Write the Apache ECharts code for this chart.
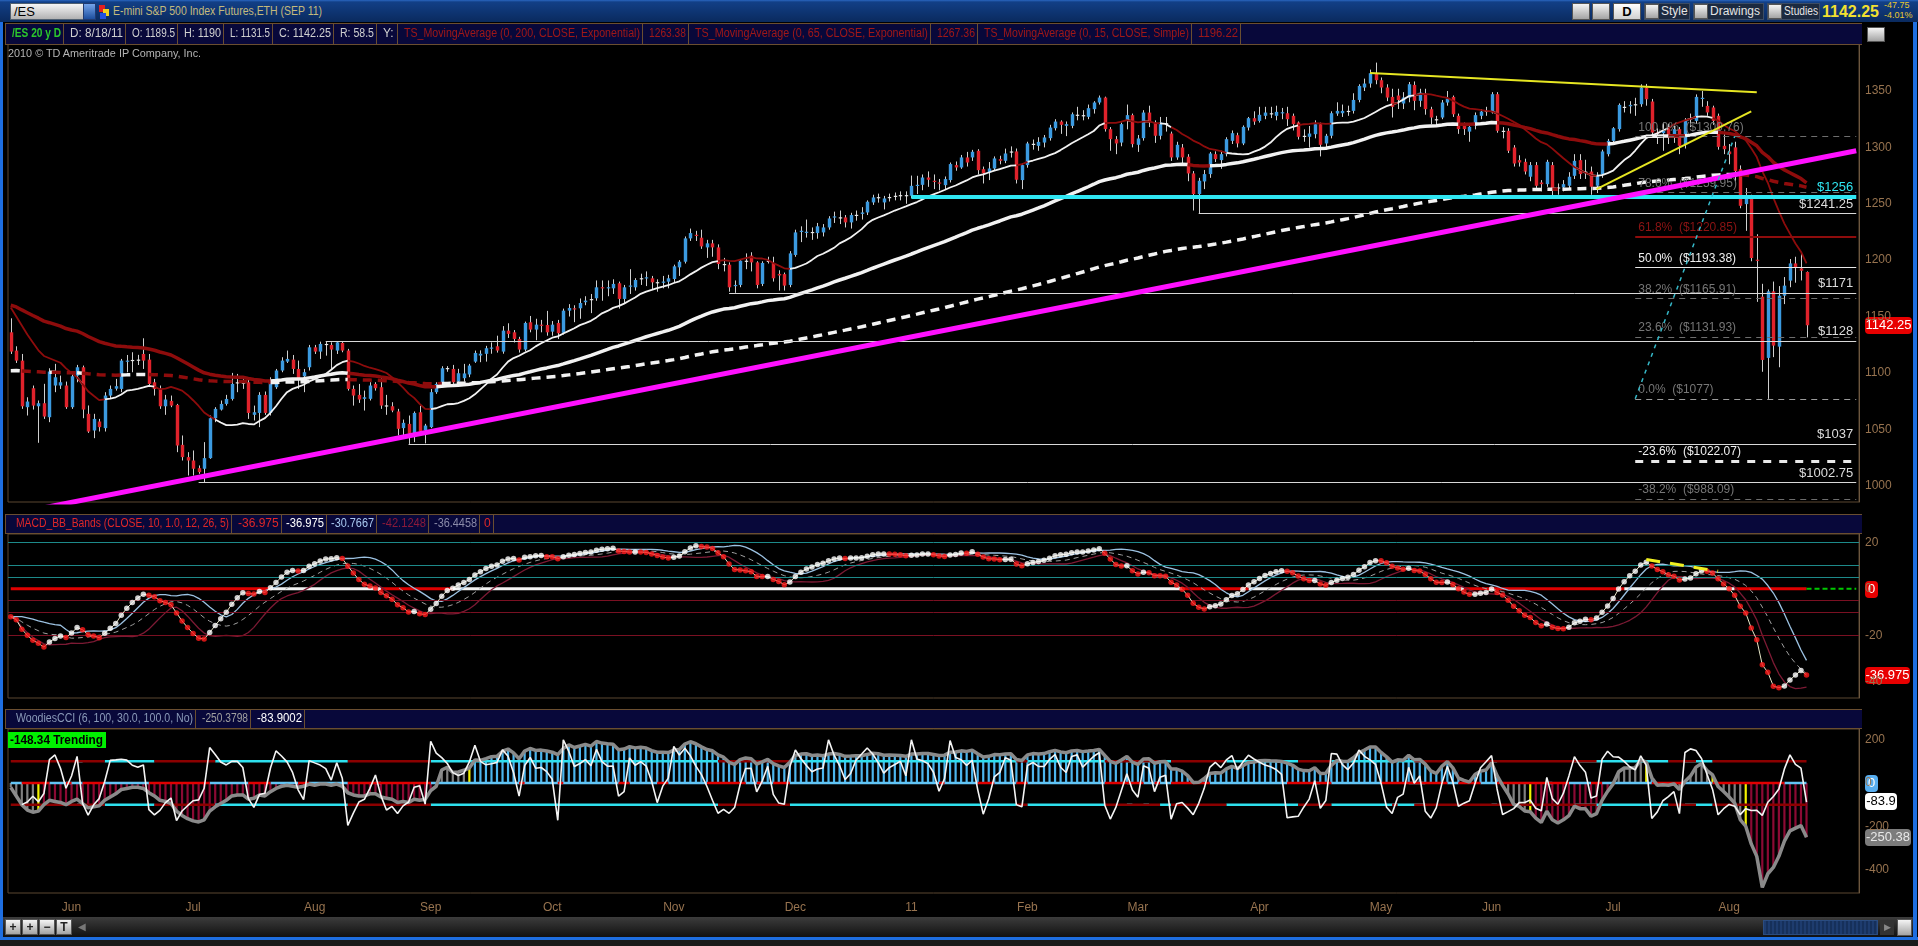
<!DOCTYPE html>
<html>
<head>
<meta charset="utf-8">
<title>/ES 20 y D</title>
<script src="https://cdn.jsdelivr.net/npm/echarts@6/dist/echarts.min.js"></script>
<style>
  html, body { margin: 0; padding: 0; width: 1918px; height: 946px; overflow: hidden; background: #000; }
  #main { position: absolute; left: 0; top: 0; width: 1918px; height: 946px; z-index: 1; }
  #chrome { position: absolute; left: 0; top: 0; width: 1918px; height: 946px; z-index: 2; pointer-events: none;
            font-family: "Liberation Sans", Arial, sans-serif; font-size: 12px; }
  #chrome div { position: absolute; box-sizing: border-box; overflow: hidden; white-space: nowrap; }
  #chrome span { display: inline-block; transform-origin: 0 50%; }
</style>
</head>
<body>
<div id="main"></div>
<div id="chrome"></div>
<script>
// ---- daily bars, /ES (index 0 = first bar on the left) ----
const opens = [
  1136,1119.8,1110.9,1069.6,1086.4,1070.4,1073.1,1060.7,1088.8,1088.8,
  1088.8,1069.6,1097.6,1105,1063.7,1048.9,1056.9,1051,1079.9,1086,
  1085.8,1110.3,1111.2,1111.5,1116.8,1111.8,1091.7,1085.8,1070.4,1075.2,
  1071.6,1036.2,1025.3,1022.3,1015.5,1015,1024.4,1059.8,1067.5,1072.5,
  1076.9,1091.2,1091.4,1091.7,1062.8,1064.5,1080.5,1064.5,1087.3,1102.1,
  1110,1111.8,1103.5,1097,1105,1122.7,1118.9,1125.4,1124.8,1119.8,
  1126.6,1119.8,1085.8,1080.5,1077,1077,1090.2,1087.3,1071.2,1070.4,
  1065.8,1051,1054.8,1046,1065.1,1049,1051.9,1082.9,1090.2,1104.1,
  1103.5,1092.3,1095.3,1098.6,1110.0,1115.4,1116.9,1121.5,1123.6,1118.9,
  1137.5,1136,1130.1,1120.7,1144.9,1138.4,1142.8,1142.5,1136.6,1144.3,
  1135.5,1155.2,1157.3,1157.3,1162.7,1165.5,1166.2,1176,1175,1175,
  1179.5,1165.6,1176.5,1175.9,1183.5,1183.9,1183.9,1180.5,1180.3,1180.9,
  1183.3,1193.6,1198.6,1219.3,1222.5,1219.9,1211.3,1214.9,1211.3,1196.6,
  1196,1177,1178,1199.5,1204,1198,1178.9,1199,1197.5,1187.8,
  1187.6,1178,1204.6,1225,1224.6,1225,1224,1224.6,1229,1238,
  1238,1237.9,1233.5,1240,1241,1242.3,1251.2,1255.6,1251.2,1255.5,
  1256.5,1257.4,1257.7,1257.1,1266,1266.8,1273.3,1270.4,1268.9,1266.5,
  1271,1284.3,1282.2,1291.1,1291.1,1297,1280.7,1277.8,1281.3,1289.6,
  1288.1,1296.0,1296.4,1271,1284.3,1302.9,1301.4,1304.3,1308.2,1317.0,
  1322.9,1319.1,1319.1,1328.6,1328.6,1327.1,1333.9,1339.8,1344.2,1316.2,
  1307.3,1304.3,1323.5,1328.6,1302.3,1308.2,1330.9,1322.1,1310.3,1321.2,
  1312.3,1291.1,1299.9,1291.7,1276.9,1258.6,1269.8,1276.3,1294,1288.7,
  1294.0,1305.8,1310.8,1303.5,1317.6,1325.9,1323.5,1328.0,1329.8,1328.0,
  1330.3,1330.3,1328.0,1322.1,1310.3,1309.4,1311.7,1320.6,1303.5,1310.3,
  1330,1330.3,1332.4,1332.4,1342.1,1353.1,1356.6,1365.8,1359.6,1353.1,
  1344.8,1346,1338.9,1344.2,1355.4,1341.3,1347.8,1333.9,1325,1326.5,
  1339.8,1344.8,1328,1319.1,1314,1319.1,1328,1332.2,1331.8,1347.2,
  1314.7,1314.7,1299.9,1288.7,1287.2,1274,1284.3,1268.9,1267.4,1284.3,
  1264.5,1264.5,1266,1274.8,1288.7,1278.6,1278.6,1266,1275.7,1294,
  1305.8,1316.2,1335.9,1336.5,1337.7,1338.3,1353.1,1340.7,1313.2,1312.6,
  1317.0,1310.2,1316.2,1302.9,1326,1323.5,1343,1336.8,1335.4,1328,
  1301.4,1296.4,1300,1280.7,1249.7,1256.2,1200.4,1167.6,1113.3,1172.3,
  1123.3,1168.5,1181.8,1197.1,1192.7,1189.5
];
const highs = [
  1148.4,1123.6,1116.8,1078.4,1088.8,1075.5,1090.3,1104.1,1108,1097.6,
  1092.3,1101.2,1107.1,1106.5,1071.1,1063.7,1059.2,1082.9,1088.8,1094.7,
  1112.4,1115.9,1118.3,1116,1130.7,1116.8,1094.7,1088.8,1080.5,1079.9,
  1072.5,1044.5,1029.7,1031.2,1017.9,1038.6,1062.2,1069.6,1075.5,1080.5,
  1100,1099.1,1096,1094.7,1071,1082.9,1083.5,1096.1,1103.5,1113.9,
  1119.8,1115.9,1110.9,1103.5,1124.8,1124.8,1127.7,1128,1127.1,1128,
  1127.7,1121.3,1088.8,1090.2,1084.3,1091.7,1091.7,1095.3,1080.5,1074,
  1068.1,1058.6,1062.2,1065.8,1071,1054.8,1085.8,1091.7,1105.9,1106,
  1107.1,1103.6,1108,1108,1119.8,1120,1124,1127,1133,1141.5,
  1144,1138,1132,1145.5,1150.5,1148,1147,1155,1146,1147,
  1157,1161,1160,1166,1168,1170,1182,1182,1182,1183,
  1181,1178,1192,1184,1188,1190,1186,1183,1186,1187,
  1196,1200,1221,1228,1226,1227,1218,1218,1214,1202,
  1198,1182,1201,1206,1207,1199,1199,1203,1203,1191,
  1189,1208,1227,1230,1236,1229,1233,1232,1239,1243,
  1244,1240,1242,1244,1247,1253,1258,1259,1257,1259,
  1260,1261,1261,1275,1274.8,1276,1278.7,1276,1272,1274.2,
  1286.6,1287.5,1293.3,1296,1297.8,1298.4,1283,1287,1292,1292.6,
  1298.9,1300.9,1299,1286,1305,1307,1309,1311,1320,1325,
  1324,1323,1331,1336,1333,1338,1341,1346,1345,1318,
  1310,1322,1338,1330,1311,1333,1337,1324,1327,1327,
  1314,1305,1303,1294,1279,1273,1280,1296,1296.5,1297,
  1309,1315,1313,1319.5,1327,1332,1336,1336,1336,1337,
  1335,1336,1330,1323,1316,1319,1324,1322,1312,1332,
  1340,1338,1337,1348,1356,1361,1369,1375.2,1362,1356,
  1352,1352,1349,1358,1358.5,1352,1352,1336,1328,1342,
  1350,1346,1330,1322,1320,1331,1334,1336,1349,1349,
  1318,1317,1302,1293,1290,1287,1287,1271,1289,1287,
  1268,1271,1278,1294,1294,1289,1283,1278,1298,1307.5,
  1318,1339,1341,1341,1344,1356,1356.3,1343,1317,1322,
  1321,1319,1318,1326,1330,1347,1350,1341,1337,1330,
  1314,1303,1305,1284,1264,1258,1223,1179,1174,1181,
  1177,1185,1201,1203,1207,1190
];
const lows = [
  1116.8,1108.8,1068.1,1062.2,1067.5,1038.0,1059.2,1056.3,1082.9,1085.8,
  1068.1,1068.1,1091.7,1059.8,1046.8,1042.1,1048.0,1048.0,1077,1084.3,
  1082.9,1100.6,1100.6,1107,1103.5,1088.8,1079.9,1068.1,1062.8,1069.6,
  1029.7,1022.3,1009.0,1009.0,1010.5,1002.75,1023.8,1056.3,1066.6,1071,
  1075.5,1082.9,1085.8,1059.2,1057.8,1051.9,1062.8,1062.2,1085.8,1100.6,
  1108.8,1099.1,1085.8,1082.9,1102.1,1116.8,1112.4,1115.3,1103.5,1116.8,
  1118.3,1084.3,1071,1073.4,1066.6,1075.5,1084.3,1068.1,1062.8,1065.1,
  1044.5,1043,1037,1038.6,1046,1037.5,1051,1081.4,1088.8,1101,
  1090.2,1088.8,1092.3,1096.2,1108.9,1109.5,1110,1117,1118,1117,
  1131,1127,1118,1119,1136,1129,1136,1133,1133,1130,
  1134,1150,1145,1148,1160,1153,1164,1164,1168,1170,
  1157,1162,1170,1173,1178,1177,1174,1172,1175,1175,
  1180,1186,1197,1217,1217,1210,1202,1203,1192,1190,
  1172,1171,1176,1192,1190,1175,1177,1197,1181,1173,
  1173,1176,1203,1216,1220,1218,1219,1221,1227,1233,
  1232,1229,1228,1235,1236,1240,1249,1251,1245,1252,
  1253,1253,1250,1255,1258.6,1262,1265,1263,1262,1263,
  1268.9,1279.3,1281,1283,1288,1276,1268,1271,1279,1285,
  1286,1291,1268,1263,1282,1298,1297,1300,1306,1315,
  1312,1310,1317,1324,1324,1325,1330,1338,1314,1297,
  1294,1301,1316,1300,1296,1306,1318,1304,1307,1314,
  1288,1289,1284,1270,1244,1241.25,1263,1273,1287,1281,
  1292,1303,1300,1302,1315,1320,1322,1325,1326,1324,
  1325,1319,1315,1307,1305,1300,1308,1292,1298,1308,
  1328,1327,1328,1330,1340,1350,1353,1356,1348,1341,
  1326.5,1334,1334,1340,1333,1336,1329,1320.5,1319,1325,
  1337,1327,1312,1311,1305,1316,1325,1328,1330,1313,
  1308,1295,1283,1283,1276,1270,1264,1261,1265,1257.5,
  1258,1261,1263,1272,1272,1272,1258,1259.5,1273,1292,
  1303,1314,1331,1330,1328,1336,1337,1310,1303,1297,
  1303,1304,1294,1299,1318,1321,1336,1328,1320,1298,
  1294,1285,1270,1246,1226,1199,1163,1101,1077,1114,
  1105,1161,1176,1180,1182,1131.5
];
const closes = [
  1118.9,1110.9,1070.4,1074.6,1071.0,1073.1,1061.3,1101.2,1096.1,1091.7,
  1069.6,1097,1105,1067.5,1048.0,1059.2,1051.9,1079.9,1085.8,1088.2,
  1110.9,1110.9,1111.5,1111.8,1110.9,1090.2,1085.8,1070.4,1076.4,1071,
  1035.6,1025.3,1022.3,1015,1012,1024.4,1059.8,1068.1,1072.5,1076.9,
  1090.2,1091.7,1091.1,1064.5,1065.1,1080.5,1064.5,1093.2,1102.1,1110.9,
  1112.4,1103.5,1094.7,1100.6,1122.7,1118.9,1125.7,1125.7,1120.7,1127.1,
  1119.8,1085.8,1079.9,1076.4,1078.4,1088.8,1086.4,1071,1071,1066.6,
  1050.4,1055.7,1046,1064.5,1048,1053.3,1082.9,1090.2,1104.1,1104.3,
  1091.7,1099.7,1099.5,1106.5,1117.7,1117,1121.9,1122.5,1119.8,1137.5,
  1134.6,1130.1,1120.7,1144.3,1138.4,1142.8,1141.9,1136,1142.8,1135.2,
  1155.2,1157.6,1156.5,1162,1164.1,1165,1175.9,1175,1176,1178.9,
  1165.6,1175.9,1177.5,1182.4,1184,1184.8,1180.3,1180.3,1181,1183.9,
  1194.5,1198.6,1219.3,1224,1221.7,1212.2,1214.9,1211.3,1196.6,1196,
  1175.9,1178,1199.5,1199,1198,1178,1197.5,1199.5,1183.9,1186.4,
  1177.4,1206,1224.6,1226.1,1225.2,1224.4,1230,1229,1237,1238.8,
  1237.9,1233.5,1240,1240.2,1242.3,1251.8,1255.6,1255.9,1254.7,1256,
  1257.1,1257.7,1257.4,1265.9,1266.8,1273.3,1271.3,1269.8,1268.0,1271.9,
  1285.2,1282.2,1291.1,1286.6,1296.1,1279.8,1276.9,1281.3,1290.2,1288.1,
  1294.6,1296.4,1271.3,1284.3,1303.5,1303.2,1304.9,1308.8,1317.6,1322.9,
  1320.0,1320.6,1329.4,1329,1328,1334.8,1339.8,1344.2,1316.2,1307.3,
  1303.5,1320.6,1328.6,1302.9,1307.9,1330.9,1322.1,1310.3,1322.1,1321.5,
  1291.1,1302.3,1291.1,1276.9,1258.6,1270.4,1276.3,1294.6,1289.6,1294.0,
  1307.3,1312.6,1303.5,1318.2,1325.9,1322.9,1328.9,1330.9,1330.3,1331.5,
  1331.2,1325.0,1320.6,1309.4,1309.9,1312.3,1320.6,1302.3,1310.3,1330.3,
  1332.4,1332.4,1332.1,1342.1,1354.5,1356.6,1365.8,1359.6,1353.1,1344.2,
  1336,1342,1344.2,1356.0,1341.3,1348.6,1333.9,1326.5,1324.9,1339.8,
  1343.3,1329.4,1316.2,1316.2,1318.2,1328.6,1331.8,1332.4,1347.2,1314.7,
  1314.4,1297,1285.7,1286.6,1278.6,1284.3,1266,1267.4,1287.2,1261.5,
  1264.5,1267.4,1274,1288.1,1276.3,1278.6,1265.1,1275.7,1296.4,1305.8,
  1317,1337.7,1336,1337.7,1338.3,1353.1,1342.7,1313.2,1312.5,1315.5,
  1308.8,1316.2,1301.4,1324.1,1325,1344.8,1344,1331,1323.5,1300.5,
  1298.4,1294,1279,1248.2,1256.2,1201.9,1199.5,1111.5,1172.3,1124.2,
  1168.5,1177.4,1197.1,1193,1190.6,1142.25
];

// month labels and the bar each month starts on
const monthNames  = ['Jun','Jul','Aug','Sep','Oct','Nov','Dec','11','Feb','Mar','Apr','May','Jun','Jul','Aug'];
const monthStarts = [11, 33, 55, 76, 98, 120, 142, 163, 184, 204, 226, 248, 268, 290, 311];

// indicator values read at the left edge, where the chart has no earlier bars
const ema200Start = 1102;
const ema65Start  = 1160;
const sma15Lead   = [1158,1150,1142,1134,1127,1120,1115,1113,1111,1109,1104,1100,1096,1090];
const ema12Start  = 1138;
const ema26Start  = 1150;
const cci100Lead  = [
  -20,-60,-100,-125,-135,-130,-100,-80,-85,-90,
  -100,-85,-75,-95,-115,-110,-105,-80,-65,-50,
  -30,-25,-20,-20,-25,-45,-60,-80,-85,-95,
  -130,-150,-165,-175,-180,-170,-130,-110,-95,-80,
  -60,-55,-55,-75,-70,-55,-60,-40,-25,-15,
  -10,-15,-20,-15,-5,-10,-5,-5,-10,-5,
  -15,-45,-55,-60,-60,-50,-50,-65,-70,-75,
  -90,-85,-90,-75,-80,-75,-35,-15
];

// drawings on the price pane
const levelPrices = [1256, 1241.25, 1171, 1128, 1037, 1002.75];
const levelStarts = [163, 215, 130, 57, 72, 34];
const levelLabels = ['$1256', '$1241.25', '$1171', '$1128', '$1037', '$1002.75'];
const fibHigh = 1309.76, fibLow = 1077, fibStart = 294;
const fibRatios = [1, 0.786, 0.618, 0.5, 0.382, 0.236, 0, -0.236, -0.382];
const magentaTrend = [[0, 974.6], [334, 1297]];
const yellowTop    = [[246, 1366], [316, 1349]];
const yellowRise   = [[287, 1263], [315, 1332]];
const fibDiagonal  = [[294, 1077], [312, 1309.76]];
const macdDivergence = [[296, 12.6], [309, 7.6]];

// axis ticks
const priceTicks = [1000, 1050, 1100, 1150, 1200, 1250, 1300, 1350];
const macdTicks  = [20, 0, -20, -40];
const cciTicks   = [200, 0, -200, -400];
const macdUpperLevels = [20, 10, 5];
const macdLowerLevels = [-5, -10, -20];

// last values shown in the axis flags
const lastPrice = 1142.25, lastMacd = -36.975, lastCci6 = -83.9, lastCci100 = -250.38;

// ---------------------------------------------------------------
const N = closes.length;
const SLOTS = 335;                       // bars plus the empty space on the right
const cats = Array.from({ length: SLOTS }, (_, i) => String(i));

function emaFrom(src, start, len) {
  const k = 2 / (len + 1), out = [start];
  for (let i = 1; i < src.length; i++) out.push(out[i - 1] + k * (src[i] - out[i - 1]));
  return out;
}
function smaLead(src, len, lead) {
  return src.map((_, i) => {
    if (i < len - 1) return lead[i];
    let s = 0;
    for (let j = i - len + 1; j <= i; j++) s += src[j];
    return s / len;
  });
}
function cci(len) {
  const tp = closes.map((c, i) => (highs[i] + lows[i] + c) / 3);
  return tp.map((v, i) => {
    const from = Math.max(0, i - len + 1);
    if (i - from < 2) return null;
    const win = tp.slice(from, i + 1);
    const m = win.reduce((a, b) => a + b, 0) / win.length;
    const md = win.reduce((a, b) => a + Math.abs(b - m), 0) / win.length;
    return md === 0 ? 0 : (v - m) / (0.015 * md);
  });
}
// split one line into two colour runs
function split(vals, up) {
  const a = [], b = [];
  for (let i = 0; i < vals.length; i++) {
    const v = vals[i];
    a.push(up[i] ? v : null);
    b.push(up[i] ? null : v);
    if (i > 0 && up[i] !== up[i - 1]) { if (up[i - 1]) a[i] = v; else b[i] = v; }
  }
  return [a, b];
}

const ema200 = emaFrom(closes, ema200Start, 200);
const ema65 = emaFrom(closes, ema65Start, 65);
const sma15 = smaLead(closes, 15, sma15Lead);

const fast = emaFrom(closes, ema12Start, 12), slow = emaFrom(closes, ema26Start, 26);
const macd = closes.map((_, i) => fast[i] - slow[i]);
const bandMid = [], bandUp = [], bandDn = [];
macd.forEach((_, i) => {
  const win = macd.slice(Math.max(0, i - 9), i + 1);
  const m = win.reduce((a, b) => a + b, 0) / win.length;
  const sd = Math.sqrt(win.reduce((a, b) => a + (b - m) * (b - m), 0) / win.length);
  bandMid.push(m); bandUp.push(m + sd); bandDn.push(m - sd);
});

const cci6 = cci(6);
const cci100 = cci(100).map((v, i) => (i < cci100Lead.length ? cci100Lead[i] : v));

const WHITE = '#f2f2f2', MAROON = '#8e0c0c';

function line(data, grid, color, width, dash, z) {
  return { type: 'line', xAxisIndex: grid, yAxisIndex: grid, data, symbol: 'none', showSymbol: false,
           connectNulls: false, silent: true, z: z || 3, lineStyle: { color, width, type: dash || 'solid', cap: 'butt' } };
}
function maPair(vals, width, dash) {
  const up = vals.map((v, i) => closes[i] >= v);
  const [a, b] = split(vals, up);
  return [line(a, 0, WHITE, width, dash, 4), line(b, 0, MAROON, width, dash, 4)];
}

const series = [];

// candles
series.push({
  type: 'custom', xAxisIndex: 0, yAxisIndex: 0, z: 2, silent: true,
  data: closes.map((c, i) => [i, opens[i], c, lows[i], highs[i]]),
  renderItem(params, api) {
    const x = api.value(0), o = api.value(1), c = api.value(2), l = api.value(3), h = api.value(4);
    const pH = api.coord([x, h]), pL = api.coord([x, l]), pO = api.coord([x, o]), pC = api.coord([x, c]);
    const w = api.size([1, 0])[0] * 0.62;
    const cx = Math.round(pH[0]) + 0.5;
    const top = Math.min(pO[1], pC[1]);
    const bh = Math.max(Math.abs(pO[1] - pC[1]), 1.2);
    const fill = Math.abs(c - o) < 0.6 ? '#e6e6e6' : (c > o ? '#3b9ae0' : '#e0222b');
    return { type: 'group', children: [
      { type: 'line', shape: { x1: cx, y1: pH[1], x2: cx, y2: pL[1] }, style: { stroke: '#cfcfcf', lineWidth: 1 } },
      { type: 'rect', shape: { x: cx - w / 2, y: top, width: w, height: bh }, style: { fill } }
    ] };
  }
});
series.push(...maPair(ema200, 3.5, [9, 6]));
series.push(...maPair(ema65, 3.5));
series.push(...maPair(sma15, 1.8));

// horizontal levels and fib retracement
const fibFmt = p => Math.abs(p - Math.round(p)) < 0.005 ? String(Math.round(p)) : p.toFixed(2);
const mlData = [];
levelPrices.forEach((p, k) => {
  const cyan = k === 0;
  mlData.push([
    { coord: [levelStarts[k], p],
      lineStyle: { color: cyan ? '#2fe6f2' : '#d8d8d8', width: cyan ? 4 : 1, type: 'solid' },
      label: { show: true, position: 'insideEndTop', formatter: levelLabels[k], distance: 3,
               color: cyan ? '#2fe6f2' : '#dcdcdc', fontSize: 13 } },
    { coord: [SLOTS - 1, p] }
  ]);
});
fibRatios.forEach(r => {
  const p = fibLow + r * (fibHigh - fibLow);
  let color = '#6e6e6e', width = 1, type = [6, 5], lc = '#767676';
  if (r === 0.618) { color = '#8e0c0c'; width = 2; type = 'solid'; lc = '#8e1414'; }
  if (r === 0.5) { color = '#e8e8e8'; width = 1; type = 'solid'; lc = '#f0f0f0'; }
  if (r === -0.236) { color = '#e8e8e8'; width = 3; type = [8, 8]; lc = '#f0f0f0'; }
  if (r === 0) { color = '#9a9a9a'; }
  mlData.push([
    { coord: [fibStart, p], lineStyle: { color, width, type },
      label: { show: true, position: 'insideStartTop', distance: 3, color: lc, fontSize: 12,
               formatter: (r * 100).toFixed(1) + '%  ($' + fibFmt(p) + ')' } },
    { coord: [SLOTS - 1, p] }
  ]);
});

const magenta = line(magentaTrend, 0, '#ff10ff', 5, 'solid', 6);
magenta.markLine = { silent: true, symbol: 'none', animation: false, z: 5, data: mlData };
series.push(magenta);
series.push(line(yellowTop, 0, '#e6e622', 2, 'solid', 6));
series.push(line(yellowRise, 0, '#e6e622', 2, 'solid', 6));
series.push(line(fibDiagonal, 0, '#35b8c8', 1.5, [4, 5], 6));

// MACD pane
const macdUp = macd.map(v => v > 0);
const [zeroW, zeroR] = split(macd.map(() => 0), macdUp);
const zeroSeries = line(zeroW, 1, '#f2f2f2', 3, 'solid', 3);
zeroSeries.markLine = { silent: true, symbol: 'none', animation: false, label: { show: false },
  data: macdUpperLevels.map(v => ({ yAxis: v, lineStyle: { color: '#1d8a8a', width: 1, type: 'solid' } }))
    .concat(macdLowerLevels.map(v => ({ yAxis: v, lineStyle: { color: '#7a1022', width: 1, type: 'solid' } }))) };
series.push(zeroSeries);
series.push(line(zeroR, 1, '#e00000', 3, 'solid', 3));
series.push(line(cats.map((_, i) => (i >= N - 1 ? 0 : null)), 1, '#00c800', 2, [5, 3], 3));
series.push(line(bandUp, 1, '#9cc2e2', 1.3, 'solid', 4));
series.push(line(bandDn, 1, '#7c1a34', 1.3, 'solid', 4));
series.push(line(bandMid, 1, '#a0a0a0', 1, [5, 4], 4));
series.push(line(macd, 1, '#e8e8c8', 1, 'solid', 5));
series.push({
  type: 'scatter', xAxisIndex: 1, yAxisIndex: 1, silent: true, z: 6, symbolSize: 5.5,
  data: macd.map((v, i) => ({ value: [i, v], itemStyle: { color: i > 0 && v > macd[i - 1] ? '#ffffff' : '#ff1a1a' } }))
});
series.push(line(macdDivergence, 1, '#f0f020', 3, [14, 10], 7));

// Woodies CCI pane
let run = 0, side = 0;
const histData = cci100.map((v, i) => {
  if (v == null) return { value: null };
  const s = v > 0 ? 1 : -1;
  if (s === side) run++; else { side = s; run = 1; }
  const color = run < 6 ? '#808080' : run === 6 ? '#f2f200' : (s > 0 ? '#4cb6ee' : '#8c0a34');
  return { value: v, itemStyle: { color } };
});
series.push({ type: 'bar', xAxisIndex: 2, yAxisIndex: 2, data: histData, barWidth: 2.2, silent: true, z: 2 });
const trendUp = closes.map((c, i) => c > sma15[i]);
const [p100c, p100r] = split(closes.map(() => 100), trendUp);
const [m100c, m100r] = split(closes.map(() => -100), trendUp);
const [zB, zR] = split(closes.map(() => 0), cci6.map(v => v == null || v >= 0));
series.push(line(p100c, 2, '#2ee0ee', 2.5, 'solid', 3), line(p100r, 2, '#8b0000', 2.5, 'solid', 3));
series.push(line(m100c, 2, '#2ee0ee', 2.5, 'solid', 3), line(m100r, 2, '#8b0000', 2.5, 'solid', 3));
series.push(line(zB, 2, '#62c4f4', 2.5, 'solid', 3), line(zR, 2, '#e00000', 2.5, 'solid', 3));
series.push(line(cci100, 2, '#8a8a8a', 3.5, 'solid', 4));
series.push(line(cci6, 2, '#f4f4f4', 1.6, 'solid', 5));

function yAx(g, min, max, ticks) {
  return {
    type: 'value', gridIndex: g, position: 'right', min, max,
    axisLine: { show: true, lineStyle: { color: '#6b563e', width: 1 } },
    axisTick: { show: false }, splitLine: { show: false },
    axisLabel: { customValues: ticks, color: '#97734f', fontSize: 12, margin: 6, formatter: v => String(v) }
  };
}
const gridBase = { left: 8, width: 1851, show: true, backgroundColor: '#000', borderColor: '#5a4631', borderWidth: 1, outerBoundsMode: 'none' };

const option = {
  animation: false,
  backgroundColor: 'transparent',
  textStyle: { fontFamily: '"Liberation Sans", Arial, sans-serif' },
  grid: [
    Object.assign({ top: 44, height: 458 }, gridBase),
    Object.assign({ top: 534, height: 164 }, gridBase),
    Object.assign({ top: 729, height: 164 }, gridBase)
  ],
  xAxis: [0, 1, 2].map(g => ({
    type: 'category', gridIndex: g, data: cats, boundaryGap: true,
    axisLine: { show: false }, axisTick: { show: false }, splitLine: { show: false },
    axisLabel: g === 2 ? {
      show: true, color: '#97734f', fontSize: 12, margin: 9,
      interval: idx => monthStarts.indexOf(idx) >= 0,
      formatter: (v, idx) => monthNames[monthStarts.indexOf(idx)] || ''
    } : { show: false }
  })),
  yAxis: [
    yAx(0, 985.5, 1391.7, priceTicks),
    yAx(1, -46.97, 23.57, macdTicks),
    yAx(2, -508, 249.4, cciTicks)
  ],
  series
};

const chart = echarts.init(document.getElementById('main'), null, { renderer: 'canvas' });
chart.setOption(option);

// value flags on the right axes
function flag(grid, value, text, fill, color, w) {
  const y = chart.convertToPixel({ yAxisIndex: grid }, value);
  return { type: 'group', x: 1865, y: Math.round(y) - 8, silent: true, z: 50, children: [
    { type: 'rect', shape: { x: 0, y: 0, width: w, height: 17, r: 4 }, style: { fill } },
    { type: 'text', style: { x: w / 2, y: 8.5, text, fill: color, fontSize: 13, align: 'center', verticalAlign: 'middle',
                             fontFamily: '"Liberation Sans", Arial, sans-serif' } }
  ] };
}
chart.setOption({ graphic: [
  flag(0, lastPrice, '1142.25', '#e80000', '#ffffff', 47),
  flag(1, 0, '0', '#e80000', '#ffffff', 13),
  flag(1, lastMacd, '-36.975', '#e80000', '#ffffff', 45),
  flag(2, 0, '0', '#58aef0', '#ffffff', 13),
  flag(2, lastCci6, '-83.9', '#ffffff', '#000000', 32),
  flag(2, lastCci100, '-250.38', '#7c7c7c', '#e8e8e8', 46)
] });

// ---------------- window chrome ----------------
const chrome = document.getElementById('chrome');
function box(l, t, w, h, css, text) {
  const d = document.createElement('div');
  d.style.cssText = 'left:' + l + 'px;top:' + t + 'px;width:' + w + 'px;height:' + h + 'px;' + (css || '');
  if (text !== undefined) {
    const s = document.createElement('span');
    s.textContent = text;
    d.appendChild(s);
  }
  chrome.appendChild(d);
  return d;
}
function squeeze(d, room) {
  const s = d.firstChild;
  if (!s) return;
  const w = s.getBoundingClientRect().width;
  if (w > room) s.style.transform = 'scaleX(' + (room / w).toFixed(3) + ')';
}
function cells(list, top, h) {
  list.forEach(([l, r, text, color, bold]) => {
    const d = box(l, top, r - l, h, 'padding-left:3px;line-height:' + (h - 1) + 'px;color:' + color +
      ';border-right:1px solid #6a4e30;' + (bold ? 'font-weight:bold;' : ''), text);
    squeeze(d, r - l - 6);
  });
}

// title bar
box(0, 0, 1918, 22, 'background:linear-gradient(#2a66c0 0,#123f86 2px,#0a2a5e 100%);');
box(10, 3, 74, 17, 'background:linear-gradient(#f6f6f6,#b2b2b2);border:1px solid #506070;padding-left:3px;line-height:15px;color:#000;font-size:13px;', '/ES');
box(83, 3, 13, 17, 'background:linear-gradient(#74a4ea,#1d4e9e);border:1px solid #203a70;');
box(99, 5, 6, 7, 'background:#e02020;');
box(103, 9, 6, 7, 'background:#f0d020;');
box(100, 13, 6, 6, 'background:#2050e0;');
squeeze(box(113, 2, 330, 19, 'line-height:19px;color:#c4ba7c;', 'E-mini S&P 500 Index Futures,ETH (SEP 11)'), 209);

const icon = 'background:linear-gradient(#f4f4f4,#a4a4a4);border:1px solid #555;';
box(1572, 3, 18, 17, icon);
box(1592, 3, 18, 17, icon);
box(1613, 3, 28, 17, 'background:linear-gradient(#ffffff,#d0d0d0);border:1px solid #555;text-align:center;line-height:15px;font-weight:bold;color:#000;font-size:13px;', 'D');
[[1644, 46, 'Style'], [1693, 71, 'Drawings'], [1767, 53, 'Studies']].forEach(([l, w, t]) => {
  box(l, 3, w, 17, 'border:1px solid #3c4c64;background:#1c2a40;');
  box(l + 1, 4, 14, 15, icon);
  squeeze(box(l + 17, 3, w - 17, 17, 'line-height:17px;color:#e4e4e4;', t), w - 19);
});
box(1822, 1, 60, 21, 'color:#f2e030;font-weight:bold;font-size:16px;line-height:21px;', '1142.25');
box(1884, 0, 29, 11, 'color:#e8c830;font-size:9px;line-height:11px;', '-47.75');
box(1884, 10, 29, 11, 'color:#e8c830;font-size:9px;line-height:11px;', '-4.01%');

// study header rows
const topCells = [
  [9, 64, '/ES 20 y D', '#2cc82c', true],
  [67, 126, 'D: 8/18/11', '#d0d0d0'],
  [129, 178, 'O: 1189.5', '#d0d0d0'],
  [181, 224, 'H: 1190', '#d0d0d0'],
  [227, 273, 'L: 1131.5', '#d0d0d0'],
  [276, 334, 'C: 1142.25', '#d0d0d0'],
  [337, 377, 'R: 58.5', '#d0d0d0'],
  [380, 398, 'Y:', '#d0d0d0'],
  [401, 643, 'TS_MovingAverage (0, 200, CLOSE, Exponential)', '#a01818'],
  [646, 689, '1263.38', '#a01818'],
  [692, 931, 'TS_MovingAverage (0, 65, CLOSE, Exponential)', '#a01818'],
  [934, 978, '1267.36', '#a01818'],
  [981, 1192, 'TS_MovingAverage (0, 15, CLOSE, Simple)', '#a01818'],
  [1195, 1241, '1196.22', '#a01818']
];
const macdCells = [
  [13, 232, 'MACD_BB_Bands (CLOSE, 10, 1.0, 12, 26, 5)', '#e02828'],
  [235, 282, '-36.975', '#e02828'],
  [283, 327, '-36.975', '#ffffff'],
  [328, 377, '-30.7667', '#a8c8f0'],
  [379, 429, '-42.1248', '#8a1a3a'],
  [431, 480, '-36.4458', '#8a8aa8'],
  [481, 494, '0', '#e02828']
];
const cciCells = [
  [13, 196, 'WoodiesCCI (6, 100, 30.0, 100.0, No)', '#8a9ab8'],
  [199, 251, '-250.3798', '#a0a0a0'],
  [254, 305, '-83.9002', '#ffffff']
];
const strip = 'background:#08083a;border-top:1px solid #6a4e30;border-bottom:1px solid #6a4e30;border-left:1px solid #6a4e30;';
box(5, 23, 1857, 22, strip);
cells(topCells, 23, 22);
box(1867, 27, 18, 15, icon);
squeeze(box(8, 46, 260, 14, 'color:#b4b4b4;font-size:11px;line-height:14px;', '2010 \u00a9 TD Ameritrade IP Company, Inc.'), 193);
box(5, 514, 1857, 20, strip);
cells(macdCells, 514, 20);
box(5, 709, 1857, 20, strip);
cells(cciCells, 709, 20);
squeeze(box(8, 732, 98, 16, 'background:#00f000;color:#000;font-weight:bold;line-height:16px;padding-left:2px;', '-148.34 Trending'), 93);

// bottom tool bar
box(3, 917, 1910, 20, 'background:linear-gradient(#3c3c3c,#111);');
['+', '+', '\u2212', 'T'].forEach((t, k) => {
  box(5 + k * 17, 919, 16, 16, icon + 'text-align:center;line-height:14px;font-weight:bold;color:#222;', t);
});
box(78, 920, 10, 14, 'color:#777;font-size:10px;line-height:14px;', '\u25c0');
box(1763, 920, 115, 15, 'background:repeating-linear-gradient(90deg,#1e3c6e 0,#1e3c6e 2px,#16305a 2px,#16305a 4px);border:1px solid #2a4c80;');
box(1880, 920, 14, 15, 'background:#333;color:#888;font-size:9px;line-height:15px;text-align:center;', '\u25b6');
box(1897, 919, 15, 17, icon);

// window frame
box(0, 22, 3, 918, 'background:#1e6ee0;');
box(1913, 22, 4, 918, 'background:#1e6ee0;');
box(0, 937, 1918, 3, 'background:#1e6ee0;');
box(0, 940, 1918, 6, 'background:#1a1a1a;');
</script>
</body>
</html>
